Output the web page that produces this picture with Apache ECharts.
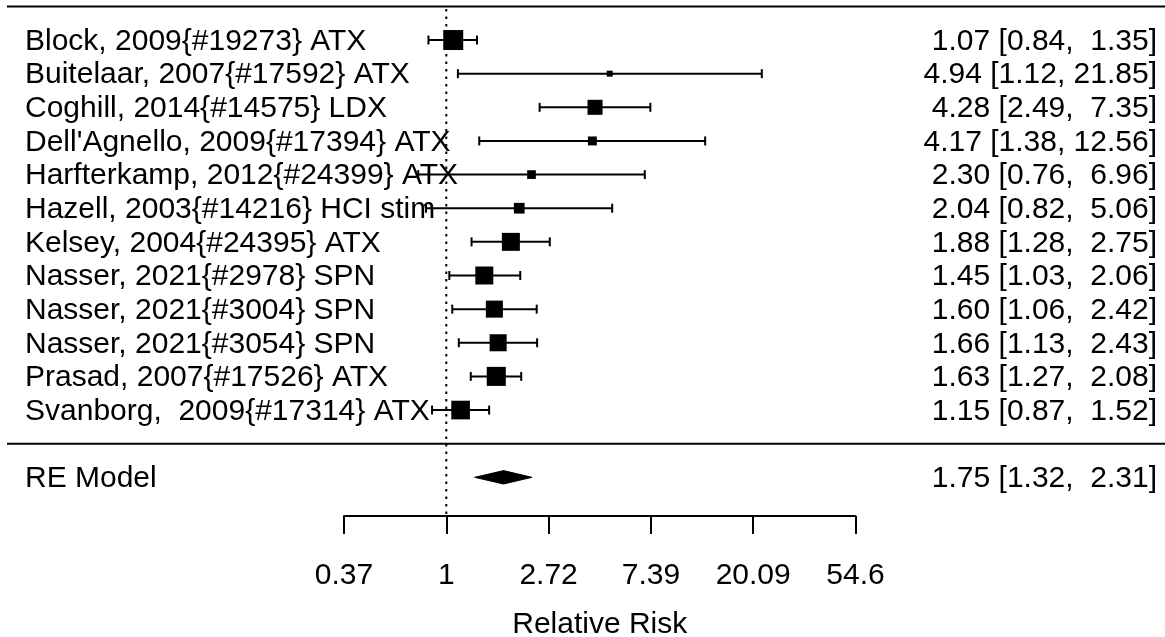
<!DOCTYPE html>
<html><head><meta charset="utf-8">
<script src="https://cdn.jsdelivr.net/npm/echarts@6/dist/echarts.min.js"></script>
<style>html,body{margin:0;padding:0;background:#fff}#c{width:1165px;height:637px}</style>
</head><body><div id="c"></div>
<script>
const studies = [
  "Block, 2009{#19273} ATX",
  "Buitelaar, 2007{#17592} ATX",
  "Coghill, 2014{#14575} LDX",
  "Dell'Agnello, 2009{#17394} ATX",
  "Harfterkamp, 2012{#24399} ATX",
  "Hazell, 2003{#14216} HCI stim",
  "Kelsey, 2004{#24395} ATX",
  "Nasser, 2021{#2978} SPN",
  "Nasser, 2021{#3004} SPN",
  "Nasser, 2021{#3054} SPN",
  "Prasad, 2007{#17526} ATX",
  "Svanborg,  2009{#17314} ATX"
];
const estimates = [1.07, 4.94, 4.28, 4.17, 2.30, 2.04, 1.88, 1.45, 1.60, 1.66, 1.63, 1.15];
const lowerCI   = [0.84, 1.12, 2.49, 1.38, 0.76, 0.82, 1.28, 1.03, 1.06, 1.13, 1.27, 0.87];
const upperCI   = [1.35, 21.85, 7.35, 12.56, 6.96, 5.06, 2.75, 2.06, 2.42, 2.43, 2.08, 1.52];
const weights   = [12.5, 2.1, 8.8, 4.3, 4.1, 5.6, 11.0, 11.0, 10.3, 10.3, 11.8, 11.5];
const summaryLabel = "RE Model";
const summaryEst = 1.75, summaryLower = 1.32, summaryUpper = 2.31;
const tickLabels = ["0.37", "1", "2.72", "7.39", "20.09", "54.6"];
const axisTitle = "Relative Risk";

const FONT = "'Liberation Sans', Arial, sans-serif";
const FS = 30;
const k = studies.length;
const fmt = (e, l, u) => e.toFixed(2) + " [" + l.toFixed(2) + ", " + u.toFixed(2).padStart(5, " ") + "]";
const wMin = Math.min(...weights), wMax = Math.max(...weights);

const studyData = studies.map((s, i) => [Math.log(estimates[i]), k - i, Math.log(lowerCI[i]), Math.log(upperCI[i]), weights[i], i]);
const labelData = studies.map((s, i) => [0, k - i, i]).concat([[0, -1, -1]]);

const chart = echarts.init(document.getElementById('c'), null, {renderer: 'canvas'});
const black = '#000';
chart.setOption({
  animation: false,
  backgroundColor: '#fff',
  grid: {left: 344, width: 511.5, top: 6.4, height: 509.6, containLabel: false, outerBoundsMode: 'none'},
  xAxis: {
    type: 'value', min: -1, max: 4, interval: 1,
    axisLine: {show: true, onZero: false, lineStyle: {color: black, width: 2}},
    axisTick: {show: true, inside: false, length: 18, lineStyle: {color: black, width: 2}},
    splitLine: {show: false},
    axisLabel: {margin: 45, color: black, fontSize: FS, fontFamily: FONT,
      formatter: v => tickLabels[Math.round(v) + 1]},
    name: axisTitle, nameLocation: 'middle', nameGap: 94,
    nameTextStyle: {color: black, fontSize: FS, fontFamily: FONT}
  },
  yAxis: {type: 'value', min: -2.15, max: 13, show: false},
  series: [
    { // reference line and horizontal rules
      type: 'custom', clip: false, silent: true,
      data: [[0]],
      renderItem(params, api) {
        const top = api.coord([0, k + 1]);
        const sep = api.coord([0, 0]);
        const bot = api.coord([0, -2.15]);
        const W = api.getWidth();
        return {type: 'group', children: [
          {type: 'line', shape: {x1: top[0], y1: top[1] + 2.5, x2: bot[0], y2: bot[1]},
           style: {stroke: black, lineWidth: 2, lineDash: [2.5, 5]}},
          {type: 'line', shape: {x1: 7, y1: top[1], x2: W, y2: top[1]}, style: {stroke: black, lineWidth: 2}},
          {type: 'line', shape: {x1: 7, y1: sep[1], x2: W, y2: sep[1]}, style: {stroke: black, lineWidth: 2}}
        ]};
      }
    },
    { // study labels and CI text
      type: 'custom', clip: false, silent: true,
      data: labelData,
      renderItem(params, api) {
        const i = api.value(2);
        const p = api.coord([0, api.value(1)]);
        const left = i < 0 ? summaryLabel : studies[i];
        const right = i < 0 ? fmt(summaryEst, summaryLower, summaryUpper) : fmt(estimates[i], lowerCI[i], upperCI[i]);
        const ty = p[1] + 1.5;
        return {type: 'group', children: [
          {type: 'text', x: 25, y: ty, style: {text: left, fill: black, font: FS + 'px ' + FONT, align: 'left', verticalAlign: 'middle'}},
          {type: 'text', x: 1157, y: ty, style: {text: right, fill: black, font: FS + 'px ' + FONT, align: 'right', verticalAlign: 'middle'}}
        ]};
      }
    },
    { // study CIs and squares
      type: 'custom', clip: false, silent: true,
      data: studyData,
      renderItem(params, api) {
        const y = api.value(1);
        const pE = api.coord([api.value(0), y]);
        const pL = api.coord([api.value(2), y]);
        const pU = api.coord([api.value(3), y]);
        const size = 6 + 14 * (api.value(4) - wMin) / (wMax - wMin);
        const cap = 4.5;
        const st = {stroke: black, lineWidth: 2};
        return {type: 'group', children: [
          {type: 'line', shape: {x1: pL[0], y1: pE[1], x2: pU[0], y2: pE[1]}, style: st},
          {type: 'line', shape: {x1: pL[0], y1: pE[1] - cap, x2: pL[0], y2: pE[1] + cap}, style: st},
          {type: 'line', shape: {x1: pU[0], y1: pE[1] - cap, x2: pU[0], y2: pE[1] + cap}, style: st},
          {type: 'rect', shape: {x: pE[0] - size / 2, y: pE[1] - size / 2, width: size, height: size}, style: {fill: black}}
        ]};
      }
    },
    { // summary diamond
      type: 'custom', clip: false, silent: true,
      data: [[Math.log(summaryEst), -1, Math.log(summaryLower), Math.log(summaryUpper)]],
      renderItem(params, api) {
        const y = api.value(1);
        const pE = api.coord([api.value(0), y]);
        const pL = api.coord([api.value(2), y]);
        const pU = api.coord([api.value(3), y]);
        const h = 6.7;
        return {type: 'polygon', shape: {points: [[pL[0], pE[1]], [pE[0], pE[1] - h], [pU[0], pE[1]], [pE[0], pE[1] + h]]},
          style: {fill: black, stroke: black, lineWidth: 1}};
      }
    }
  ]
});
</script></body></html>
